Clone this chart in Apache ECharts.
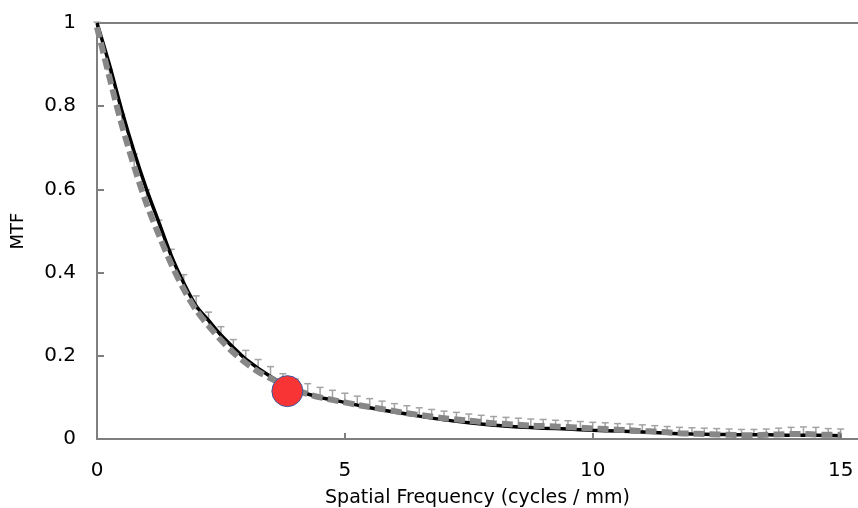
<!DOCTYPE html>
<html>
<head>
<meta charset="utf-8">
<script src="https://cdn.jsdelivr.net/npm/echarts@6/dist/echarts.min.js"></script>
<style>html,body{margin:0;padding:0;background:#fff;}#c{width:858px;height:508px;}</style>
</head>
<body>
<div id="c"></div>
<script>
// Fitted MTF curve (solid black)
var fitX = [0, 0.25, 0.5, 0.75, 1.0, 1.25, 1.5, 1.75, 2.0, 2.25, 2.5, 2.75, 3.0, 3.5, 4.0, 4.5, 5.0, 5.5, 6.0, 6.5, 7.0, 7.5, 8.0, 8.5, 9.0, 9.5, 10.0, 10.5, 11.0, 11.5, 12.0, 12.5, 13.0, 13.5, 14.0, 14.5, 15.0];
var fitY = [1.0, 0.9, 0.79, 0.69, 0.6, 0.52, 0.44, 0.375, 0.32, 0.285, 0.25, 0.22, 0.192, 0.15, 0.118, 0.1, 0.088, 0.075, 0.065, 0.055, 0.046, 0.039, 0.033, 0.029, 0.026, 0.024, 0.021, 0.019, 0.017, 0.014, 0.012, 0.011, 0.01, 0.01, 0.009, 0.009, 0.008];

// Measured MTF (grey dashed) with upper error bars
var measX = [0, 0.25, 0.5, 0.75, 1.0, 1.25, 1.5, 1.75, 2.0, 2.25, 2.5, 2.75, 3.0, 3.25, 3.5, 3.75, 4.0, 4.25, 4.5, 4.75, 5.0, 5.25, 5.5, 5.75, 6.0, 6.25, 6.5, 6.75, 7.0, 7.25, 7.5, 7.75, 8.0, 8.25, 8.5, 8.75, 9.0, 9.25, 9.5, 9.75, 10.0, 10.25, 10.5, 10.75, 11.0, 11.25, 11.5, 11.75, 12.0, 12.25, 12.5, 12.75, 13.0, 13.25, 13.5, 13.75, 14.0, 14.25, 14.5, 14.75, 15.0];
var measY = [0.99, 0.87, 0.755, 0.655, 0.565, 0.49, 0.42, 0.36, 0.31, 0.272, 0.238, 0.208, 0.183, 0.162, 0.146, 0.13, 0.118, 0.108, 0.1, 0.094, 0.088, 0.082, 0.077, 0.072, 0.067, 0.062, 0.058, 0.054, 0.05, 0.047, 0.044, 0.041, 0.038, 0.036, 0.034, 0.032, 0.031, 0.03, 0.029, 0.027, 0.025, 0.024, 0.022, 0.021, 0.019, 0.018, 0.016, 0.014, 0.013, 0.012, 0.011, 0.01, 0.009, 0.009, 0.01, 0.011, 0.012, 0.012, 0.011, 0.01, 0.01];
var measErr = [0.012, 0.018, 0.025, 0.03, 0.034, 0.036, 0.036, 0.035, 0.034, 0.033, 0.032, 0.031, 0.03, 0.029, 0.028, 0.027, 0.026, 0.025, 0.024, 0.023, 0.022, 0.021, 0.02, 0.019, 0.018, 0.018, 0.017, 0.017, 0.017, 0.017, 0.016, 0.016, 0.016, 0.016, 0.016, 0.016, 0.016, 0.015, 0.015, 0.015, 0.015, 0.015, 0.015, 0.015, 0.015, 0.014, 0.014, 0.014, 0.014, 0.014, 0.014, 0.014, 0.014, 0.014, 0.014, 0.015, 0.016, 0.017, 0.017, 0.015, 0.014];

// Highlighted point
var markPt = [3.84, 0.115];

var xTicks = [0, 5, 10, 15];
var yTicks = [0, 0.2, 0.4, 0.6, 0.8, 1];

var chart = echarts.init(document.getElementById('c'), null, {renderer: 'canvas'});
var axisColor = '#7f7f7f';
var fontFam = 'DejaVu Sans';

var fitData = fitX.map(function (x, i) { return [x, fitY[i]]; });
var measData = measX.map(function (x, i) { return [x, measY[i]]; });
var errData = measX.map(function (x, i) { return [x, measY[i], measY[i] + measErr[i]]; });

chart.setOption({
  animation: false,
  backgroundColor: '#ffffff',
  grid: {left: 97, top: 23, right: 0, bottom: 69, containLabel: false, outerBoundsMode: 'none'},
  xAxis: [{
    type: 'value', min: 0, max: 15.35, interval: 5,
    name: 'Spatial Frequency (cycles / mm)', nameLocation: 'middle', nameGap: 50,
    nameTextStyle: {fontFamily: fontFam, fontSize: 19, color: '#000'},
    axisLine: {show: true, onZero: false, lineStyle: {color: axisColor, width: 2}},
    axisTick: {show: true, inside: true, length: 6, lineStyle: {color: axisColor, width: 2}},
    axisLabel: {show: true, showMaxLabel: false, margin: 22, fontFamily: fontFam, fontSize: 20, color: '#000',
      formatter: function (v) { return xTicks.indexOf(v) >= 0 ? String(v) : ''; }},
    splitLine: {show: false}
  }, {
    type: 'value', min: 0, max: 15.35, position: 'top',
    axisLine: {show: true, onZero: false, lineStyle: {color: axisColor, width: 2}},
    axisTick: {show: false}, axisLabel: {show: false}, splitLine: {show: false}
  }],
  yAxis: {
    type: 'value', min: 0, max: 1, interval: 0.2,
    name: 'MTF', nameLocation: 'middle', nameGap: 70, nameRotate: 90,
    nameTextStyle: {fontFamily: fontFam, fontSize: 18, color: '#000'},
    axisLine: {show: true, onZero: false, lineStyle: {color: axisColor, width: 2}},
    axisTick: {show: true, inside: true, length: 7, lineStyle: {color: axisColor, width: 2}},
    axisLabel: {margin: 21, fontFamily: fontFam, fontSize: 20, color: '#000',
      formatter: function (v) { return yTicks.indexOf(Math.round(v * 10) / 10) >= 0 ? String(Math.round(v * 10) / 10) : ''; }},
    splitLine: {show: false}
  },
  series: [
    {
      type: 'custom', name: 'err', xAxisIndex: 0, z: 1,
      data: errData,
      renderItem: function (params, api) {
        var x = api.value(0);
        var p0 = api.coord([x, api.value(1)]);
        var p1 = api.coord([x, api.value(2)]);
        var cap = 3.5;
        var st = {stroke: '#a3a3a3', lineWidth: 1.5};
        return {type: 'group', children: [
          {type: 'line', shape: {x1: p0[0], y1: p0[1], x2: p1[0], y2: p1[1]}, style: st},
          {type: 'line', shape: {x1: p1[0] - cap, y1: p1[1], x2: p1[0] + cap, y2: p1[1]}, style: st}
        ]};
      }
    },
    {
      type: 'line', name: 'fit', xAxisIndex: 0, data: fitData, smooth: 0.3, showSymbol: false, z: 2,
      lineStyle: {color: '#000000', width: 3.5}
    },
    {
      type: 'line', name: 'measured', xAxisIndex: 0, data: measData, smooth: 0.3, showSymbol: false, z: 3,
      lineStyle: {color: '#878787', width: 6, type: [11, 5]}
    },
    {
      type: 'scatter', name: 'point', xAxisIndex: 0, data: [markPt], symbolSize: 31, z: 5,
      itemStyle: {color: '#f83434', opacity: 1, borderColor: '#3a5ba0', borderWidth: 1}
    }
  ]
});
</script>
</body>
</html>
